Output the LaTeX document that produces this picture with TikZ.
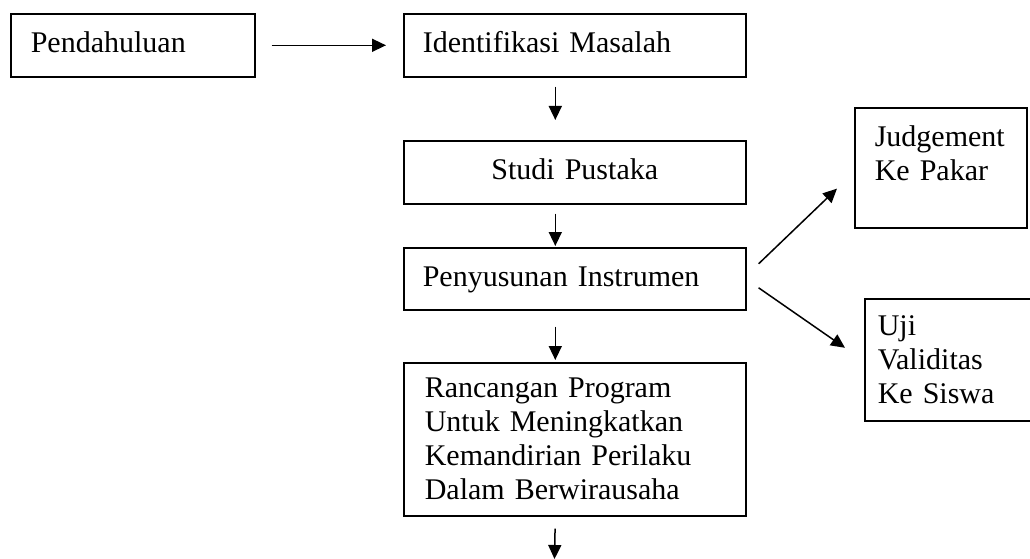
\documentclass[tikz,border=0pt]{standalone}
\usepackage{fontspec}
\setmainfont{Liberation Serif}
\usetikzlibrary{arrows.meta}
\begin{document}
\begin{tikzpicture}[x=1pt,y=-1pt,
  box/.style={draw, line width=1.6pt, anchor=north west, inner ysep=0pt, align=left,
    font=\fontsize{30}{34}\selectfont},
  one/.style={text height=20.5pt, text depth=6pt},
  arr/.style={line width=1.5pt, -{Triangle[length=14pt,width=13pt]}}]
\clip (0,0) rectangle (1030,559);
% boxes
\node[box, one, minimum width=244pt, minimum height=63pt, inner xsep=20pt, text width=204pt] (pend) at (10,13) {Pendahuluan};
\node[box, one, minimum width=342pt, minimum height=63pt, inner xsep=19pt, text width=304pt] (ident) at (403,13) {Identifikasi Masalah};
\node[box, one, minimum width=342pt, minimum height=63pt, inner xsep=19pt, text width=304pt, align=center] (studi) at (403,140) {Studi Pustaka};
\node[box, one, minimum width=342pt, minimum height=62pt, inner xsep=19pt, text width=304pt] (pen) at (403,247) {Penyusunan Instrumen};
\node[box, minimum width=342pt, minimum height=153pt, inner xsep=21pt, text width=300pt] (ranc) at (403,362) {Rancangan Program\\Untuk Meningkatkan\\Kemandirian Perilaku\\Dalam Berwirausaha};
\node[box, minimum width=172pt, minimum height=120pt, inner xsep=20pt, text width=132pt] (judge) at (854,107) {Judgement\\Ke Pakar\\[-5pt]\mbox{}};
\node[box, minimum width=176pt, minimum height=122pt, inner xsep=13pt, text width=150pt] (uji) at (864,298) {Uji\\Validitas\\Ke Siswa};
% connectors
\draw[arr, shorten <=16pt, shorten >=17pt] (pend.east) -- (ident.west);
\draw[arr, shorten <=9pt, shorten >=20pt] ([xshift=-19.5pt]ident.south) -- ([xshift=-19.5pt]studi.north);
\draw[arr, shorten <=9pt, shorten >=1pt] ([xshift=-19.5pt]studi.south) -- ([xshift=-19.5pt]pen.north);
\draw[arr, shorten <=16pt, shorten >=2pt] ([xshift=-19.5pt]pen.south) -- ([xshift=-19.5pt]ranc.north);
\coordinate (end) at (554.5,559);
\draw[arr, shorten <=12pt] ([xshift=-19.5pt]ranc.south) -- (end);
\draw[arr] ([shift={(12pt,15pt)}]pen.east) -- ([shift={(-17pt,40pt)}]judge.south west);
\draw[arr] ([shift={(12pt,-9pt)}]pen.east) -- ([shift={(-19pt,12pt)}]uji.west);
\end{tikzpicture}
\end{document}
